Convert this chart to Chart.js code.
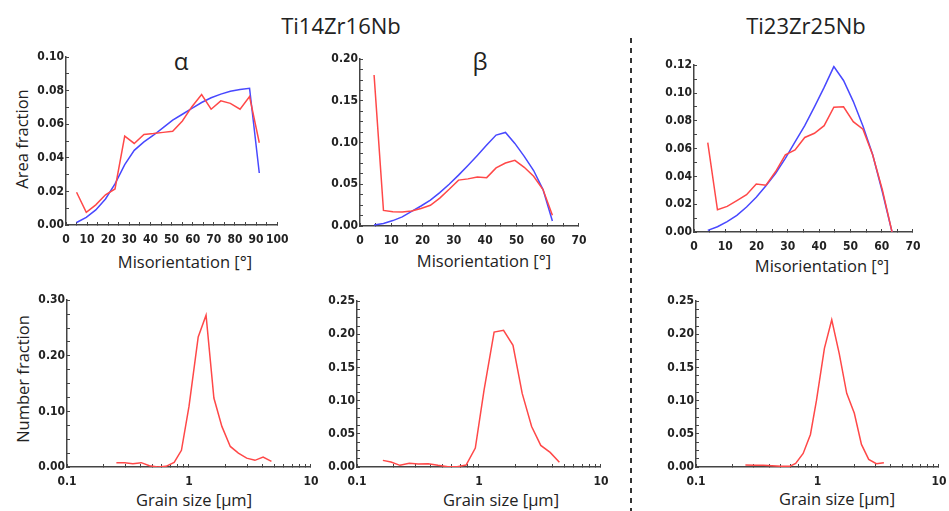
<!DOCTYPE html>
<html><head><meta charset="utf-8">
<script src="https://cdn.jsdelivr.net/npm/chart.js@4.4.1/dist/chart.umd.min.js"></script>
<style>
html,body{margin:0;padding:0;background:#fff;}
body{width:949px;height:511px;position:relative;overflow:hidden;font-family:'Open Sans',sans-serif;color:#222;}
.c{position:absolute;}
.t{position:absolute;white-space:nowrap;transform:translate(-50%,-50%);line-height:1;}
.v{transform:translate(-50%,-50%) rotate(-90deg);}
</style></head><body>
<div class="t" style="left:341px;top:25px;font-size:22px;">Ti14Zr16Nb</div>
<div class="t" style="left:806px;top:25px;font-size:22px;">Ti23Zr25Nb</div>
<div class="t" style="left:181px;top:61px;font-size:24px;">α</div>
<div class="t" style="left:480px;top:61px;font-size:24px;">β</div>
<div class="t v" style="left:22px;top:139px;font-size:16.5px;">Area fraction</div>
<div class="t v" style="left:23px;top:379px;font-size:16.5px;">Number fraction</div>
<div class="t" style="left:185px;top:262px;font-size:16.5px;">Misorientation [°]</div>
<div class="t" style="left:484px;top:261px;font-size:16.5px;">Misorientation [°]</div>
<div class="t" style="left:822px;top:266px;font-size:16.5px;">Misorientation [°]</div>
<div class="t" style="left:194px;top:500px;font-size:16.5px;">Grain size [μm]</div>
<div class="t" style="left:501px;top:500px;font-size:16.5px;">Grain size [μm]</div>
<div class="t" style="left:837px;top:499px;font-size:16.5px;">Grain size [μm]</div>
<svg style="position:absolute;left:0;top:0" width="949" height="511"><line x1="631" y1="38" x2="631" y2="511" stroke="#333" stroke-width="2" stroke-dasharray="5,5"/></svg>
<script>
// ---- Ti14Zr16Nb alpha: misorientation ----
const alphaMisX = [5.0, 9.6, 14.1, 18.7, 23.2, 27.8, 32.3, 36.9, 41.4, 46.0, 50.5, 55.1, 59.6, 64.2, 68.7, 73.3, 77.8, 82.4, 86.9, 91.5];
const alphaMisRed = [0.0195, 0.0075, 0.0120, 0.0180, 0.0215, 0.0530, 0.0486, 0.0540, 0.0545, 0.0552, 0.0559, 0.0620, 0.0705, 0.0777, 0.0690, 0.0740, 0.0725, 0.0690, 0.0765, 0.0490];
const alphaMisBlue = [0.0015, 0.0045, 0.0090, 0.0155, 0.0245, 0.0360, 0.0445, 0.0495, 0.0535, 0.0580, 0.0625, 0.0660, 0.0695, 0.0730, 0.0758, 0.0780, 0.0797, 0.0808, 0.0815, 0.0310];
// ---- Ti14Zr16Nb beta: misorientation ----
const betaMisX = [4.5, 7.5, 10.5, 13.5, 16.5, 19.5, 22.5, 25.5, 28.5, 31.5, 34.5, 37.5, 40.5, 43.5, 46.5, 49.5, 52.5, 55.5, 58.5, 61.5];
const betaMisRed = [0.181, 0.0187, 0.0170, 0.0168, 0.0180, 0.0210, 0.0248, 0.0335, 0.0440, 0.0550, 0.0565, 0.0588, 0.0580, 0.0696, 0.0755, 0.0787, 0.0704, 0.0596, 0.0437, 0.0130];
const betaMisBlue = [0.0012, 0.0030, 0.0065, 0.0110, 0.0175, 0.0240, 0.0310, 0.0400, 0.0500, 0.0610, 0.0725, 0.0845, 0.0970, 0.1090, 0.1122, 0.0990, 0.0835, 0.0665, 0.0437, 0.0060];
// ---- Ti23Zr25Nb: misorientation ----
const t23MisX = [4.4, 7.5, 10.6, 13.7, 16.8, 19.9, 23.0, 26.1, 29.2, 32.3, 35.4, 38.5, 41.6, 44.7, 47.8, 50.9, 54.0, 57.1, 60.2, 63.3];
const t23MisRed = [0.0643, 0.0160, 0.0184, 0.0225, 0.0268, 0.0345, 0.0337, 0.0435, 0.0555, 0.0590, 0.0680, 0.0710, 0.0765, 0.0898, 0.0901, 0.0794, 0.0739, 0.0555, 0.0304, 0.0000];
const t23MisBlue = [0.0012, 0.0038, 0.0075, 0.0120, 0.0180, 0.0250, 0.0333, 0.0423, 0.0530, 0.0648, 0.0765, 0.0900, 0.1040, 0.1190, 0.1090, 0.0940, 0.0762, 0.0558, 0.0290, 0.0000];
// ---- Grain size distributions ----
const alphaGrainX = [0.254, 0.297, 0.347, 0.406, 0.474, 0.554, 0.647, 0.756, 0.867, 1.00, 1.19, 1.38, 1.60, 1.86, 2.18, 2.54, 2.97, 3.47, 4.05, 4.74];
const alphaGrainY = [0.0078, 0.0078, 0.0060, 0.0078, 0.0024, 0.0000, 0.0012, 0.0084, 0.0300, 0.1090, 0.2340, 0.2730, 0.1240, 0.0730, 0.0370, 0.0250, 0.0160, 0.0120, 0.0180, 0.0100];
const betaGrainX = [0.163, 0.190, 0.225, 0.268, 0.317, 0.383, 0.461, 0.556, 0.662, 0.784, 0.933, 1.10, 1.33, 1.59, 1.90, 2.26, 2.70, 3.21, 3.83, 4.56];
const betaGrainY = [0.0100, 0.0075, 0.0025, 0.0055, 0.0045, 0.0050, 0.0025, 0.0005, 0.0005, 0.0030, 0.0285, 0.1160, 0.2035, 0.2060, 0.1835, 0.1110, 0.0610, 0.0325, 0.0220, 0.0070];
const t23GrainX = [0.255, 0.300, 0.358, 0.421, 0.498, 0.590, 0.661, 0.762, 0.875, 0.980, 1.14, 1.31, 1.51, 1.74, 2.01, 2.30, 2.64, 3.05, 3.52];
const t23GrainY = [0.0030, 0.0025, 0.0025, 0.0020, 0.0010, 0.0010, 0.0055, 0.0205, 0.0490, 0.1000, 0.1790, 0.2220, 0.1710, 0.1110, 0.0810, 0.0340, 0.0115, 0.0050, 0.0065];
// ---- tick values ----
const logTicks = [0.1, 0.2, 0.3, 0.4, 0.5, 0.6, 0.7, 0.8, 0.9, 1, 2, 3, 4, 5, 6, 7, 8, 9, 10];
const logLabels = [0.1, 1, 10];

const RED = 'rgb(255,72,72)', BLUE = 'rgb(72,72,255)';
const tickFont = {family: "'DejaVu Sans Condensed','DejaVu Sans',sans-serif", size: 12, weight: 'bold'};
const W = 45, H = 25, PADT = 12, PADR = 16;

function baseAxis() {
  return {
    border: {display: true, color: '#444', width: 1.5},
    grid: {drawOnChartArea: false, drawTicks: true, tickLength: -3, tickColor: '#444', tickWidth: 1}
  };
}

function makeChart(area, xAxis, yMax, yStep, yEvery, series) {
  const cw = area.r - area.l + W + PADR, ch = area.b - area.t + PADT + H;
  const div = document.createElement('div');
  div.className = 'c';
  div.style.left = (area.l - W) + 'px';
  div.style.top = (area.t - PADT) + 'px';
  div.style.width = cw + 'px';
  div.style.height = ch + 'px';
  const cv = document.createElement('canvas');
  cv.width = cw; cv.height = ch;
  cv.style.width = cw + 'px'; cv.style.height = ch + 'px';
  div.appendChild(cv);
  document.body.appendChild(div);

  let x;
  if (xAxis.log) {
    x = Object.assign(baseAxis(), {
      type: 'logarithmic', min: 0.1, max: 10,
      afterBuildTicks: s => { s.ticks = logTicks.map(v => ({value: v})); },
      ticks: {autoSkip: false, maxRotation: 0, minRotation: 0, padding: 10.5, color: '#222', font: tickFont,
        callback: v => logLabels.some(l => Math.abs(l - v) < 1e-9) ? String(v) : ''},
      afterFit: s => { s.height = H; }
    });
  } else {
    x = Object.assign(baseAxis(), {
      type: 'linear', min: 0, max: xAxis.max,
      ticks: {stepSize: 5, autoSkip: false, maxRotation: 0, minRotation: 0, padding: 10.5, color: '#222', font: tickFont,
        callback: (v, i) => i % 2 === 0 ? String(Math.round(v)) : ''},
      afterFit: s => { s.height = H; }
    });
  }
  const y = Object.assign(baseAxis(), {
    type: 'linear', min: 0, max: yMax,
    ticks: {stepSize: yStep, autoSkip: false, padding: 5, color: '#222', font: tickFont,
      callback: (v, i) => i % yEvery === 0 ? v.toFixed(2) : ''},
    afterFit: s => { s.width = W; }
  });

  new Chart(cv, {
    type: 'scatter',
    data: {datasets: series.map(s => ({
      data: s.x.map((xv, i) => ({x: xv, y: s.y[i]})),
      showLine: true, borderColor: s.color, backgroundColor: s.color,
      borderWidth: 1.5, pointRadius: 0, fill: false, tension: 0
    }))},
    options: {
      responsive: false, animation: false, events: [],
      layout: {padding: {left: 0, top: PADT, right: PADR, bottom: 0}},
      plugins: {legend: {display: false}, tooltip: {enabled: false}},
      scales: {x, y}
    }
  });
}

makeChart({l: 66, r: 283, t: 57, b: 225}, {max: 100}, 0.10, 0.01, 2,
  [{x: alphaMisX, y: alphaMisRed, color: RED}, {x: alphaMisX, y: alphaMisBlue, color: BLUE}]);
makeChart({l: 360, r: 581, t: 59, b: 226}, {max: 70}, 0.20, 0.0125, 4,
  [{x: betaMisX, y: betaMisRed, color: RED}, {x: betaMisX, y: betaMisBlue, color: BLUE}]);
makeChart({l: 694, r: 915, t: 65, b: 232}, {max: 70}, 0.12, 0.01, 2,
  [{x: t23MisX, y: t23MisRed, color: RED}, {x: t23MisX, y: t23MisBlue, color: BLUE}]);
makeChart({l: 67, r: 313, t: 300, b: 467}, {log: true}, 0.30, 0.025, 4,
  [{x: alphaGrainX, y: alphaGrainY, color: RED}]);
makeChart({l: 357, r: 603, t: 301, b: 467}, {log: true}, 0.25, 0.0125, 4,
  [{x: betaGrainX, y: betaGrainY, color: RED}]);
makeChart({l: 696, r: 941, t: 301, b: 467}, {log: true}, 0.25, 0.0125, 4,
  [{x: t23GrainX, y: t23GrainY, color: RED}]);
</script>
</body></html>
